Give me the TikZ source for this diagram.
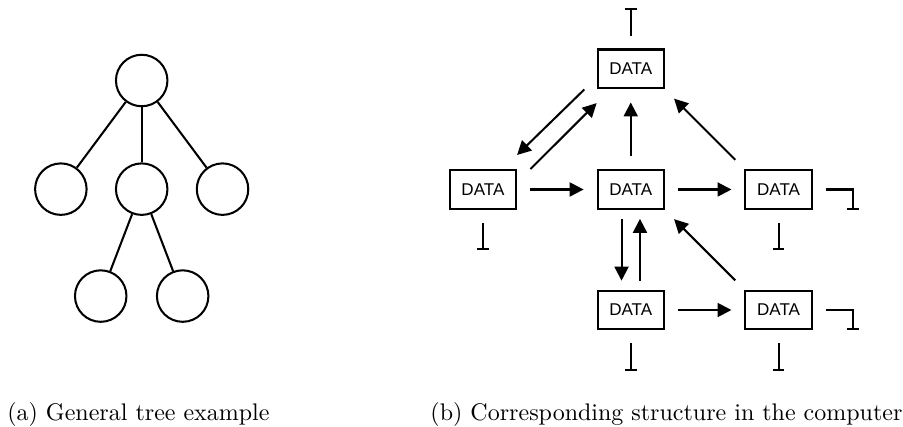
\documentclass[tikz,border=0pt]{standalone}
\usepackage{fontspec}
\newfontfamily\datafont{Liberation Sans}
\usetikzlibrary{positioning, arrows.meta}
\tikzstyle{treenode} = [circle, draw=black, line width=0.85pt, minimum size=0.754cm, inner sep=0pt]
\tikzstyle{datablock} = [rectangle, draw=black, line width=0.85pt, minimum width=0.97cm, minimum height=0.57cm, inner sep=0pt, font=\datafont\fontsize{7.1}{8}\selectfont]
\tikzstyle{arrow} = [line width=0.85pt, -{Triangle[length=5.8pt,width=5.8pt]}, shorten <=0.19cm, shorten >=0.19cm]
\tikzstyle{nullptr} = [line width=0.85pt, -{Bar[width=0.17cm]}, shorten <=0.19cm]
\tikzstyle{caption} = [anchor=base west, inner sep=0pt]

\begin{document}
\begin{tikzpicture}[node distance=1.165cm]
        \useasboundingbox (0,0) rectangle (13.224,6.253);

        \node (root) [treenode] at (2.075,5.074) {};
        \node (kid2) [treenode, below=0.807cm of root] {};
        \node (kid1) [treenode, left=0.4cm of kid2] {};
        \node (kid3) [treenode, right=0.4cm of kid2] {};
        \node (leaf1) [treenode, below=0.782cm of kid2, xshift=-0.6cm] {};
        \node (leaf2) [treenode, below=0.782cm of kid2, xshift=0.6cm] {};

        \draw [line width=0.85pt] (root) -- (kid1);
        \draw [line width=0.85pt] (root) -- (kid2);
        \draw [line width=0.85pt] (root) -- (kid3);
        \draw [line width=0.85pt] (kid2) -- (leaf1);
        \draw [line width=0.85pt] (kid2) -- (leaf2);

        \node (dmid) [datablock] at (9.237,3.478) {DATA};
        \node (dtop) [datablock, above=of dmid] {DATA};
        \node (dleft) [datablock, left=of dmid] {DATA};
        \node (dright) [datablock, right=of dmid] {DATA};
        \node (dbot) [datablock, below=of dmid] {DATA};
        \node (dbotr) [datablock, right=of dbot] {DATA};

        \draw [arrow, shorten <=0pt, shorten >=0pt] ([xshift=-0.18cm]dtop.south west) -- ([yshift=0.205cm]dleft.north east);
        \draw [arrow, shorten <=0pt, shorten >=0pt] ([xshift=0.196cm]dleft.north east) -- ([yshift=-0.2cm]dtop.south west);
        \draw [arrow] (dmid) -- (dtop);
        \draw [arrow] (dright.north west) -- (dtop.south east);
        \draw [arrow] (dleft) -- (dmid);
        \draw [arrow] (dmid) -- (dright);
        \draw [arrow, shorten <=0.13cm, shorten >=0.13cm] ([xshift=-0.135cm]dmid.south) -- ([xshift=-0.135cm]dbot.north);
        \draw [arrow, shorten <=0.13cm, shorten >=0.13cm] ([xshift=0.135cm]dbot.north) -- ([xshift=0.135cm]dmid.south);
        \draw [arrow] (dbotr.north west) -- (dmid.south east);
        \draw [arrow] (dbot) -- (dbotr);

        \draw [nullptr] (dtop.north) -- ++(0,0.59);
        \draw [nullptr] (dleft.south) -- ++(0,-0.59);
        \draw [nullptr] (dright.south) -- ++(0,-0.59);
        \draw [nullptr] (dbot.south) -- ++(0,-0.59);
        \draw [nullptr] (dbotr.south) -- ++(0,-0.59);
        \draw [nullptr] (dright.east) -- ++(0.59,0) -- ++(0,-0.3);
        \draw [nullptr] (dbotr.east) -- ++(0.59,0) -- ++(0,-0.3);

        \node (capa) [caption] at (0.1,0.1) {(a) General tree example};
        \node (capb) [caption] at (6.297,0.1) {(b) Corresponding structure in the computer};
    \end{tikzpicture}
\end{document}
